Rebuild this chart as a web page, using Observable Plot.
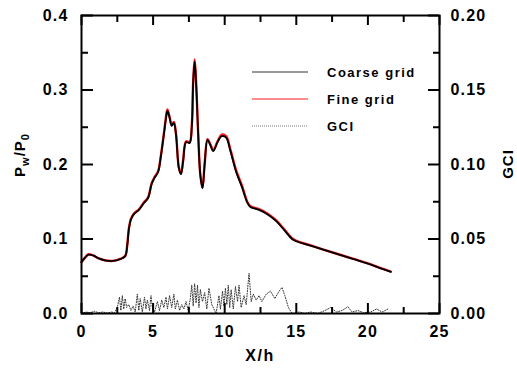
<!DOCTYPE html>
<html><head><meta charset="utf-8">
<script src="https://cdn.jsdelivr.net/npm/d3@7"></script>
<script src="https://cdn.jsdelivr.net/npm/@observablehq/plot@0.6"></script>
<style>
body{margin:0;background:#fff;}
#chart svg text{font-family:"Liberation Sans",Arial,sans-serif;font-weight:bold;}
</style></head><body><div id="chart"></div>
<script>
// Pressure ratio curves (X/h vs Pw/P0)
const xPos   = [0,0.25,0.5,0.8,1.2,1.7,2.2,2.7,3.05,3.2,3.3,3.45,3.65,4.0,4.35,4.65,4.9,5.1,5.35,5.55,5.75,5.9,6.0,6.15,6.3,6.45,6.6,6.8,6.95,7.1,7.3,7.55,7.7,7.8,7.9,8.0,8.15,8.3,8.45,8.6,8.8,9.0,9.2,9.5,9.8,10.1,10.4,10.8,11.2,11.6,11.8,12.4,13.0,13.6,14.2,14.7,15.0,16,17,18,19,20,21,21.6];
const coarse = [0.069,0.075,0.079,0.078,0.074,0.071,0.0705,0.073,0.077,0.092,0.112,0.126,0.133,0.139,0.148,0.155,0.174,0.182,0.19,0.212,0.24,0.262,0.272,0.263,0.252,0.256,0.24,0.195,0.187,0.205,0.23,0.229,0.25,0.31,0.338,0.31,0.24,0.185,0.168,0.2,0.233,0.226,0.218,0.23,0.238,0.236,0.218,0.19,0.17,0.148,0.143,0.139,0.133,0.124,0.111,0.1,0.097,0.091,0.085,0.079,0.073,0.067,0.06,0.056];
const fine   = [0.069,0.075,0.0795,0.078,0.074,0.0712,0.0707,0.0732,0.0772,0.093,0.113,0.127,0.134,0.1395,0.149,0.156,0.175,0.183,0.191,0.213,0.241,0.264,0.274,0.264,0.253,0.257,0.241,0.196,0.188,0.206,0.231,0.23,0.252,0.312,0.341,0.312,0.241,0.186,0.169,0.201,0.234,0.227,0.219,0.231,0.24,0.238,0.22,0.192,0.172,0.149,0.144,0.14,0.134,0.125,0.112,0.101,0.0975,0.0913,0.0852,0.0792,0.0732,0.0672,0.0602,0.0562];
// Grid convergence index (right axis)
const gciX   = [0,0.3,0.6,0.9,1.2,1.5,1.8,2.1,2.3,2.5,2.65,2.75,2.85,2.95,3.05,3.15,3.3,3.45,3.6,3.75,3.9,4.0,4.1,4.25,4.4,4.5,4.6,4.75,4.85,4.95,5.1,5.3,5.45,5.6,5.75,5.9,6.0,6.15,6.3,6.45,6.55,6.7,6.85,7.0,7.15,7.3,7.45,7.6,7.7,7.8,7.9,8.0,8.1,8.2,8.3,8.45,8.6,8.75,8.9,9.1,9.4,9.6,9.7,9.85,9.95,10.05,10.15,10.25,10.35,10.45,10.6,10.75,10.9,11.0,11.15,11.35,11.5,11.7,11.85,12.0,12.2,12.4,12.6,12.9,13.2,13.5,13.8,14.0,14.2,14.45,14.7,15.2,15.6,16.0,16.5,17.0,17.4,17.8,18.2,18.6,18.9,19.3,19.7,20.2,20.6,21.0,21.4];
const gciVal = [0,0.001,0.0005,0.0015,0.0005,0.001,0.0003,0.001,0.0005,0.004,0.011,0.002,0.012,0.003,0.010,0.004,0.006,0.002,0.005,0.001,0.013,0.002,0.010,0.001,0.011,0.003,0.009,0.002,0.012,0.004,0.001,0.008,0.002,0.009,0.004,0.011,0.003,0.012,0.004,0.013,0.003,0.009,0.002,0.006,0.003,0.008,0.002,0.010,0.019,0.005,0.020,0.007,0.019,0.004,0.016,0.008,0.014,0.003,0.017,0.006,0.0,0.012,0.003,0.015,0.005,0.017,0.006,0.019,0.004,0.016,0.003,0.018,0.008,0.019,0.004,0.012,0.006,0.027,0.008,0.013,0.009,0.012,0.008,0.013,0.015,0.010,0.015,0.0175,0.012,0.004,0.0,0.001,0.0,0.001,0.0,0.002,0.004,0.001,0.002,0.0045,0.001,0.002,0.0005,0.001,0.003,0.001,0.003];

const xTicks = [0,5,10,15,20,25];
const xMinor = [2.5,7.5,12.5,17.5,22.5];
const yTicks = [0,0.1,0.2,0.3,0.4];
const yMinor = [0.05,0.15,0.25,0.35];
const gciTicks = [0,0.05,0.1,0.15,0.2];
const gciMinor = [0.025,0.075,0.125,0.175];
const legendLabels = ["Coarse grid","Fine grid","GCI"];

const W=517,H=369,mL=81,mR=78,mT=15,mB=56;
const pw=W-mL-mR, ph=H-mT-mB;
const k = 0.4/0.2; // right axis to left axis factor

const coarseData = xPos.map((x,i)=>({x,y:coarse[i]}));
const fineData = xPos.map((x,i)=>({x,y:fine[i]}));
const gciData = gciX.map((x,i)=>({x,g:gciVal[i]}));

const chart = Plot.plot({
  width:W,height:H,marginLeft:mL,marginRight:mR,marginTop:mT,marginBottom:mB,
  style:{fontFamily:"'Liberation Sans',Arial,sans-serif",fontSize:"16px",fontWeight:"bold",letterSpacing:"1.2px",background:"#fff",color:"#000"},
  x:{domain:[0,25]},
  y:{domain:[0,0.4]},
  marks:[
    Plot.line(gciData,{x:"x",y:d=>d.g*k,stroke:"#333",strokeWidth:1,strokeDasharray:"1,1.6"}),
    Plot.line(fineData,{x:"x",y:"y",stroke:"#ff1a1a",strokeWidth:2.4,curve:"catmull-rom"}),
    Plot.line(coarseData,{x:"x",y:"y",stroke:"#000",strokeWidth:1.8,curve:"catmull-rom"}),
    Plot.frame({stroke:"#000",strokeWidth:2}),
    Plot.tickY(yTicks,{y:d=>d,insetRight:pw-12,stroke:"#000",strokeWidth:2}),
    Plot.tickY(yMinor,{y:d=>d,insetRight:pw-7,stroke:"#000",strokeWidth:2}),
    Plot.tickY(gciTicks,{y:d=>d*k,insetLeft:pw-11,stroke:"#000",strokeWidth:2}),
    Plot.tickY(gciMinor,{y:d=>d*k,insetLeft:pw-6,stroke:"#000",strokeWidth:2}),
    Plot.tickX(xTicks,{x:d=>d,insetTop:ph-10,stroke:"#000",strokeWidth:2}),
    Plot.tickX(xMinor,{x:d=>d,insetTop:ph-6,stroke:"#000",strokeWidth:2}),
    Plot.tickX(xTicks,{x:d=>d,insetBottom:ph-10,stroke:"#000",strokeWidth:2}),
    Plot.tickX(xMinor,{x:d=>d,insetBottom:ph-7,stroke:"#000",strokeWidth:2}),
    Plot.axisX(xTicks,{tickSize:0,tickPadding:12,label:null,fontSize:16,tickFormat:d=>String(d)}),
    Plot.axisY(yTicks,{anchor:"left",tickSize:0,tickPadding:13,label:null,fontSize:16,tickFormat:d=>d.toFixed(1)}),
    Plot.axisY(gciTicks.map(v=>v*k),{anchor:"right",tickSize:0,tickPadding:11,label:null,fontSize:16,tickFormat:d=>(d/k).toFixed(2)})
  ]
});
document.getElementById("chart").appendChild(chart);

const svg = d3.select(chart);
// axis titles
svg.append("text").attr("x",mL+pw/2).attr("y",361).attr("text-anchor","middle")
  .style("font-size","16px").style("letter-spacing","1.5px").text("X/h");
const yl = svg.append("text").attr("transform","translate(25,155) rotate(-90)").attr("text-anchor","middle")
  .style("font-size","15px").style("letter-spacing","1px");
yl.append("tspan").text("P");
yl.append("tspan").attr("dy",4).style("font-size","11px").text("w");
yl.append("tspan").attr("dy",-4).text("/P");
yl.append("tspan").attr("dy",4).style("font-size","11px").text("0");
svg.append("text").attr("transform","translate(513,164) rotate(-90)").attr("text-anchor","middle")
  .style("font-size","15px").style("letter-spacing","1px").text("GCI");

// legend
const legStyles = [
  {stroke:"#333",width:1.2,dash:null},
  {stroke:"#ff1a1a",width:1.2,dash:null},
  {stroke:"#777",width:1,dash:"1,1"}
];
const legY = [72,99,126];
legendLabels.forEach((lab,i)=>{
  const l = svg.append("line").attr("x1",252).attr("x2",308).attr("y1",legY[i]).attr("y2",legY[i])
    .attr("stroke",legStyles[i].stroke).attr("stroke-width",legStyles[i].width);
  if (legStyles[i].dash) l.attr("stroke-dasharray",legStyles[i].dash);
  svg.append("text").attr("x",327).attr("y",legY[i]+4.5).attr("text-anchor","start")
    .style("font-size","13px").style("letter-spacing","1.5px").text(lab);
});
</script></body></html>
